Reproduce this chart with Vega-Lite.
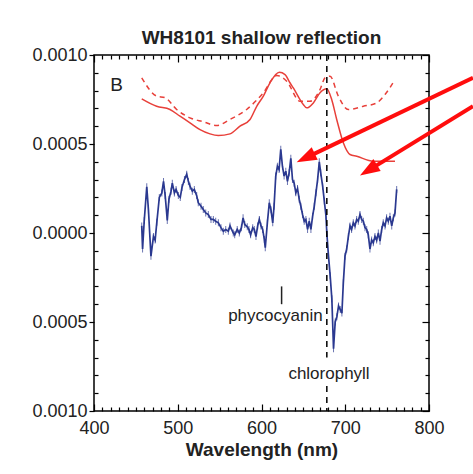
{
  "$schema": "https://vega.github.io/schema/vega-lite/v6.json",
  "width": 335,
  "height": 356,
  "autosize": {"type": "none"},
  "padding": {"left": 94, "top": 55, "right": 44, "bottom": 63},
  "background": "white",
  "title": {"text": "WH8101 shallow reflection", "fontSize": 19, "fontWeight": "bold", "color": "#222222", "font": "Liberation Sans", "baseline": "bottom", "offset": -21, "anchor": "middle"},
  "datasets": {
    "blue": [
      {"w": 457, "v": 0.00004}, {"w": 458, "v": -0.00009}, {"w": 460, "v": 0.00007}, {"w": 463, "v": 0.00026}, {"w": 465, "v": 0.00013},
      {"w": 468, "v": -0.00013}, {"w": 471, "v": -0.00002}, {"w": 473, "v": -0.00004}, {"w": 475, "v": 0.00006}, {"w": 478, "v": 0.0002},
      {"w": 481, "v": 0.000225}, {"w": 483, "v": 0.00029}, {"w": 485, "v": 0.00021}, {"w": 487.5, "v": 0.00007}, {"w": 489.5, "v": 0.00019},
      {"w": 492, "v": 0.000235}, {"w": 493.5, "v": 0.00028}, {"w": 496, "v": 0.000225}, {"w": 498, "v": 0.000245}, {"w": 500.7, "v": 0.00021},
      {"w": 503, "v": 0.0002}, {"w": 505, "v": 0.000255}, {"w": 508, "v": 0.0003}, {"w": 510.7, "v": 0.00033}, {"w": 512.7, "v": 0.00029},
      {"w": 514.6, "v": 0.000263}, {"w": 517.4, "v": 0.000235}, {"w": 519.8, "v": 0.000245}, {"w": 522.6, "v": 0.00021}, {"w": 524.5, "v": 0.00017},
      {"w": 527.8, "v": 0.00015}, {"w": 530.5, "v": 0.000132}, {"w": 533.4, "v": 0.000113}, {"w": 536.5, "v": 0.000104}, {"w": 539.7, "v": 0.000076},
      {"w": 542.5, "v": 0.000076}, {"w": 545.3, "v": 0.000066}, {"w": 548.5, "v": 0.000057}, {"w": 551.6, "v": 0.00003}, {"w": 554.4, "v": 0.00001},
      {"w": 557.3, "v": 0.00002}, {"w": 560.4, "v": 0.00001}, {"w": 562.4, "v": 0.00004}, {"w": 566.3, "v": 0.0}, {"w": 568, "v": -0.00001},
      {"w": 571, "v": 0.00002}, {"w": 573.5, "v": 0.0}, {"w": 576, "v": 0.00003}, {"w": 578, "v": 0.000085}, {"w": 580, "v": 0.000048},
      {"w": 583, "v": 0.000035}, {"w": 585, "v": 0.00002}, {"w": 587, "v": -0.00001}, {"w": 589.5, "v": 0.00003}, {"w": 591.4, "v": 0.00002},
      {"w": 593.4, "v": -0.00002}, {"w": 595.4, "v": 0.00004}, {"w": 597.4, "v": 0.000076}, {"w": 599.4, "v": 0.00004}, {"w": 601.4, "v": 0.00002},
      {"w": 603.4, "v": -0.000037}, {"w": 604.5, "v": -0.000083}, {"w": 607, "v": 0.000057}, {"w": 609.3, "v": 0.00017}, {"w": 611.3, "v": 0.00013},
      {"w": 613.4, "v": 0.000057}, {"w": 615, "v": 0.00015}, {"w": 617, "v": 0.00032}, {"w": 619, "v": 0.000375}, {"w": 621, "v": 0.000357},
      {"w": 623, "v": 0.00047}, {"w": 625, "v": 0.000375}, {"w": 627, "v": 0.00032}, {"w": 629, "v": 0.000347}, {"w": 631, "v": 0.00029},
      {"w": 633, "v": 0.000338}, {"w": 635, "v": 0.00042}, {"w": 637, "v": 0.0003}, {"w": 639, "v": 0.00028}, {"w": 641, "v": 0.000226},
      {"w": 643, "v": 0.00025}, {"w": 645, "v": 0.00019}, {"w": 647, "v": 0.00015}, {"w": 649, "v": 0.000104}, {"w": 651, "v": 0.000066},
      {"w": 653, "v": 0.000076}, {"w": 655, "v": 0.00002}, {"w": 657, "v": 0.000066}, {"w": 659, "v": 0.00002}, {"w": 661, "v": 0.000094},
      {"w": 663, "v": 0.00015}, {"w": 665, "v": 0.000226}, {"w": 667, "v": 0.0003}, {"w": 669, "v": 0.0004}, {"w": 670.7, "v": 0.000338},
      {"w": 673, "v": 0.000263}, {"w": 675, "v": 0.00018}, {"w": 677, "v": 0.000094}, {"w": 678, "v": 0.0}, {"w": 680, "v": -0.00013},
      {"w": 682, "v": -0.00024}, {"w": 684, "v": -0.00037}, {"w": 686, "v": -0.00065}, {"w": 688, "v": -0.0005}, {"w": 690, "v": -0.00047},
      {"w": 692, "v": -0.00041}, {"w": 694, "v": -0.00043}, {"w": 696, "v": -0.00045}, {"w": 697.7, "v": -0.00028}, {"w": 699.7, "v": -0.00013},
      {"w": 701.7, "v": -0.00009}, {"w": 703.7, "v": -0.00002}, {"w": 705.7, "v": 0.00004}, {"w": 707.6, "v": 0.00002}, {"w": 709.6, "v": 0.000057},
      {"w": 711.6, "v": 0.00004}, {"w": 713.6, "v": 0.000076}, {"w": 715.6, "v": 0.000066}, {"w": 717.6, "v": 0.000104}, {"w": 719.6, "v": 0.000076},
      {"w": 721.6, "v": 0.000066}, {"w": 723.6, "v": 0.00003}, {"w": 725.6, "v": 0.00002}, {"w": 727.5, "v": -0.00001}, {"w": 729.5, "v": -0.00009},
      {"w": 731.5, "v": -0.00004}, {"w": 733.5, "v": -0.000055}, {"w": 735.5, "v": -0.00002}, {"w": 737.5, "v": -0.00004}, {"w": 739.5, "v": 0.0},
      {"w": 741.5, "v": -0.000046}, {"w": 743.5, "v": 0.00002}, {"w": 745.4, "v": 0.000057}, {"w": 747.5, "v": 0.00004}, {"w": 749.4, "v": 0.000085},
      {"w": 751.4, "v": 0.000066}, {"w": 753.4, "v": 0.000094}, {"w": 755.5, "v": 0.00004}, {"w": 757.4, "v": 0.000085}, {"w": 759.4, "v": 0.000113},
      {"w": 761.4, "v": 0.000245}
    ],
    "redSolid": [
      {"w": 457, "v": 0.000754}, {"w": 474.8, "v": 0.000712}, {"w": 490.7, "v": 0.000694}, {"w": 502.7, "v": 0.000656}, {"w": 514.6, "v": 0.000619},
      {"w": 526.6, "v": 0.000581}, {"w": 538.5, "v": 0.000557}, {"w": 548.4, "v": 0.000548}, {"w": 562.4, "v": 0.000557}, {"w": 574.3, "v": 0.0006},
      {"w": 586.3, "v": 0.000638}, {"w": 594.3, "v": 0.000712}, {"w": 602.2, "v": 0.000769}, {"w": 610.1, "v": 0.000844}, {"w": 621.3, "v": 0.000903},
      {"w": 628.1, "v": 0.00089}, {"w": 634, "v": 0.000844}, {"w": 638, "v": 0.000815}, {"w": 649.9, "v": 0.000722}, {"w": 654, "v": 0.000703},
      {"w": 661.9, "v": 0.000731}, {"w": 669.9, "v": 0.000788}, {"w": 677.9, "v": 0.00081}, {"w": 683.8, "v": 0.00075}, {"w": 689.8, "v": 0.000638},
      {"w": 697.7, "v": 0.000507}, {"w": 705.7, "v": 0.000441}, {"w": 713.7, "v": 0.000431}, {"w": 733.5, "v": 0.000403}, {"w": 759.4, "v": 0.000403}
    ],
    "redDashed": [
      {"w": 457, "v": 0.000872}, {"w": 474.9, "v": 0.000769}, {"w": 484.8, "v": 0.00076}, {"w": 498.7, "v": 0.000694}, {"w": 514.6, "v": 0.000647},
      {"w": 530.5, "v": 0.000625}, {"w": 546.5, "v": 0.000604}, {"w": 562.4, "v": 0.000638}, {"w": 582.3, "v": 0.000694}, {"w": 602.2, "v": 0.000788},
      {"w": 618.2, "v": 0.000885}, {"w": 630.1, "v": 0.000853}, {"w": 646, "v": 0.00074}, {"w": 657.9, "v": 0.00074}, {"w": 669.9, "v": 0.000806},
      {"w": 675.8, "v": 0.000872}, {"w": 681.8, "v": 0.000881}, {"w": 691.7, "v": 0.000769}, {"w": 703.6, "v": 0.000694}, {"w": 721.6, "v": 0.000712},
      {"w": 737.6, "v": 0.000731}, {"w": 747.5, "v": 0.000778}, {"w": 759.4, "v": 0.000862}
    ],
    "vguide": [
      {"seg": 1, "w": 678, "v": 0.001, "v2": -0.0007},
      {"seg": 2, "w": 678, "v": -0.00086, "v2": -0.001}
    ],
    "marker": [
      {"w": 624, "v": -0.0003, "v2": -0.0004}
    ],
    "labels": [
      {"w": 427, "v": 0.000834, "text": "B", "kind": "panel"},
      {"w": 616.6, "v": -0.000467, "text": "phycocyanin", "kind": "note"},
      {"w": 680.6, "v": -0.00079, "text": "chlorophyll", "kind": "note"}
    ],
    "arrows": [
      {"arrow": 1, "w": 852.5, "v": 0.000872}, {"arrow": 1, "w": 652.8, "v": 0.000422},
      {"arrow": 2, "w": 852.5, "v": 0.000712}, {"arrow": 2, "w": 727.8, "v": 0.000352}
    ],
    "heads": [
      {"arrow": 1, "w": 642.0, "v": 0.000398},
      {"arrow": 2, "w": 717.6, "v": 0.000323}
    ]
  },
  "resolve": {"axis": {"x": "independent", "y": "independent"}},
  "layer": [
    {
      "data": {"name": "blue"},
      "mark": {"type": "line", "color": "#2b3990", "strokeWidth": 1.7, "clip": true},
      "encoding": {
        "x": {"field": "w", "type": "quantitative", "scale": {"domain": [400, 800], "nice": false, "zero": false},
          "axis": {
            "orient": "bottom",
            "values": [400, 500, 600, 700, 800],
            "format": "d",
            "tickSize": -7,
            "labelPadding": 15,
            "title": "Wavelength (nm)",
            "titlePadding": 3
          }
        },
        "y": {"field": "v", "type": "quantitative", "scale": {"domain": [-0.001, 0.001], "nice": false, "zero": false},
          "axis": {
            "orient": "left",
            "values": [-0.001, -0.0005, 0, 0.0005, 0.001],
            "labelExpr": "format(abs(datum.value), '.4f')",
            "tickSize": 5,
            "labelPadding": 2,
            "title": null
          }
        }
      }
    },
    {
      "data": {"name": "blue"},
      "mark": {"type": "tick", "color": "#2b3990", "orient": "vertical", "thickness": 1, "size": 7},
      "encoding": {
        "x": {"field": "w", "type": "quantitative",
          "axis": {
            "orient": "bottom",
            "values": [410,420,430,440,450,460,470,480,490,510,520,530,540,550,560,570,580,590,610,620,630,640,650,660,670,680,690,710,720,730,740,750,760,770,780,790],
            "labels": false,
            "tickSize": -4,
            "title": null
          }
        },
        "y": {"field": "v", "type": "quantitative",
          "axis": {
            "orient": "left",
            "values": [-0.0009,-0.0008,-0.0007,-0.0006,-0.0004,-0.0003,-0.0002,-0.0001,0.0001,0.0002,0.0003,0.0004,0.0006,0.0007,0.0008,0.0009],
            "labels": false,
            "tickSize": -4,
            "title": null
          }
        }
      }
    },
    {
      "data": {"name": "redSolid"},
      "mark": {"type": "line", "color": "#e8403a", "strokeWidth": 1.5, "interpolate": "monotone"},
      "encoding": {
        "x": {"field": "w", "type": "quantitative",
          "axis": {
            "orient": "top",
            "values": [400, 500, 600, 700, 800],
            "labels": false,
            "tickSize": -7,
            "title": null
          }
        },
        "y": {"field": "v", "type": "quantitative",
          "axis": {
            "orient": "right",
            "values": [-0.001, -0.0005, 0, 0.0005, 0.001],
            "labels": false,
            "tickSize": -7,
            "title": null
          }
        }
      }
    },
    {
      "data": {"name": "redDashed"},
      "mark": {"type": "line", "color": "#e8403a", "strokeWidth": 1.5, "strokeDash": [5, 4], "interpolate": "monotone"},
      "encoding": {
        "x": {"field": "w", "type": "quantitative",
          "axis": {
            "orient": "top",
            "values": [410,420,430,440,450,460,470,480,490,510,520,530,540,550,560,570,580,590,610,620,630,640,650,660,670,680,690,710,720,730,740,750,760,770,780,790],
            "labels": false,
            "tickSize": -4,
            "title": null
          }
        },
        "y": {"field": "v", "type": "quantitative",
          "axis": {
            "orient": "right",
            "values": [-0.0009,-0.0008,-0.0007,-0.0006,-0.0004,-0.0003,-0.0002,-0.0001,0.0001,0.0002,0.0003,0.0004,0.0006,0.0007,0.0008,0.0009],
            "labels": false,
            "tickSize": -4,
            "title": null
          }
        }
      }
    },
    {
      "mark": {"type": "rule", "color": "black", "strokeWidth": 1.5, "strokeDash": [6, 5]},
      "encoding": {
        "y": {"datum": 0, "type": "quantitative", "axis": null}
      }
    },
    {
      "data": {"name": "vguide"},
      "mark": {"type": "rule", "color": "black", "strokeWidth": 1.5, "strokeDash": [6, 5]},
      "encoding": {
        "x": {"field": "w", "type": "quantitative", "axis": null},
        "y": {"field": "v", "type": "quantitative", "axis": null},
        "y2": {"field": "v2"}
      }
    },
    {
      "data": {"name": "marker"},
      "mark": {"type": "rule", "color": "#222222", "strokeWidth": 1.5},
      "encoding": {
        "x": {"field": "w", "type": "quantitative", "axis": null},
        "y": {"field": "v", "type": "quantitative", "axis": null},
        "y2": {"field": "v2"}
      }
    },
    {
      "data": {"name": "labels"},
      "transform": [{"filter": "datum.kind === 'note'"}],
      "mark": {"type": "text", "font": "Liberation Sans", "fontSize": 17, "color": "#222222", "align": "center", "baseline": "middle"},
      "encoding": {
        "x": {"field": "w", "type": "quantitative", "axis": null},
        "y": {"field": "v", "type": "quantitative", "axis": null},
        "text": {"field": "text"}
      }
    },
    {
      "data": {"name": "labels"},
      "transform": [{"filter": "datum.kind === 'panel'"}],
      "mark": {"type": "text", "font": "Liberation Sans", "fontSize": 19, "color": "#222222", "align": "center", "baseline": "middle"},
      "encoding": {
        "x": {"field": "w", "type": "quantitative", "axis": null},
        "y": {"field": "v", "type": "quantitative", "axis": null},
        "text": {"field": "text"}
      }
    },
    {
      "data": {"name": "arrows"},
      "mark": {"type": "line", "color": "#ff0d0d", "strokeWidth": 4, "clip": false},
      "encoding": {
        "x": {"field": "w", "type": "quantitative", "axis": null},
        "y": {"field": "v", "type": "quantitative", "axis": null},
        "detail": {"field": "arrow"}
      }
    },
    {
      "data": {"name": "heads"},
      "transform": [{"filter": "datum.arrow === 1"}],
      "mark": {"type": "point", "shape": "M0,0L0.7,2L-0.7,2Z", "filled": true, "color": "#ff0d0d", "opacity": 1, "size": 400, "angle": 244.4, "strokeWidth": 0},
      "encoding": {
        "x": {"field": "w", "type": "quantitative", "axis": null},
        "y": {"field": "v", "type": "quantitative", "axis": null}
      }
    },
    {
      "data": {"name": "heads"},
      "transform": [{"filter": "datum.arrow === 2"}],
      "mark": {"type": "point", "shape": "M0,0L0.7,2L-0.7,2Z", "filled": true, "color": "#ff0d0d", "opacity": 1, "size": 400, "angle": 238.4, "strokeWidth": 0},
      "encoding": {
        "x": {"field": "w", "type": "quantitative", "axis": null},
        "y": {"field": "v", "type": "quantitative", "axis": null}
      }
    }
  ],
  "config": {
    "font": "Liberation Sans",
    "view": {"stroke": "black", "strokeWidth": 1.5},
    "axis": {
      "domain": false,
      "grid": false,
      "tickColor": "black",
      "tickWidth": 1.2,
      "labelFont": "Liberation Sans",
      "labelFontSize": 18,
      "labelColor": "#222222",
      "labelOverlap": false,
      "labelFlush": false,
      "labelBound": false,
      "titleFont": "Liberation Sans",
      "titleFontSize": 19,
      "titleFontWeight": "bold",
      "titleColor": "#222222"
    }
  }
}
